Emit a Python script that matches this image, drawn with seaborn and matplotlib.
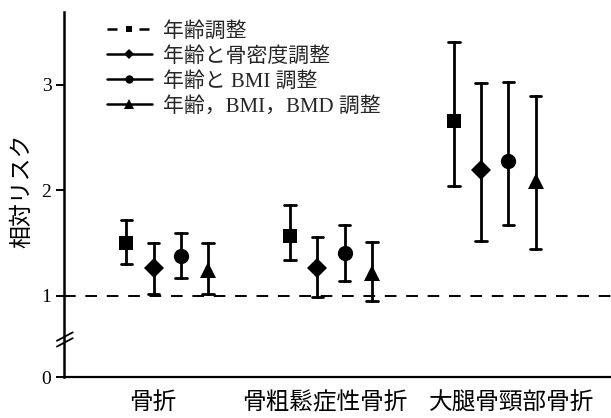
import numpy as np
import pandas as pd
import matplotlib
matplotlib.use("Agg")
import matplotlib.pyplot as plt
from matplotlib.lines import Line2D
import seaborn as sns

# Fracture type categories (x axis)
fractures = ["骨折", "骨粗鬆症性骨折", "大腿骨頸部骨折"]

# Adjustment models (legend)
models = ["年齢調整", "年齢と骨密度調整", "年齢と BMI 調整", "年齢，BMI，BMD 調整"]

# Relative risk with 95% CI for each model, per fracture type
rr_age = [1.50, 1.57, 2.66]
lo_age = [1.30, 1.34, 2.04]
hi_age = [1.72, 1.86, 3.41]

rr_bmd = [1.26, 1.26, 2.19]
lo_bmd = [1.02, 0.99, 1.52]
hi_bmd = [1.50, 1.56, 3.02]

rr_bmi = [1.38, 1.41, 2.28]
lo_bmi = [1.17, 1.14, 1.67]
hi_bmi = [1.60, 1.67, 3.03]

rr_all = [1.25, 1.22, 2.09]
lo_all = [1.02, 0.95, 1.44]
hi_all = [1.50, 1.51, 2.89]

ytick_values = [1, 2, 3]
ytick_labels = ["1", "2", "3"]

series = {
    models[0]: (rr_age, lo_age, hi_age),
    models[1]: (rr_bmd, lo_bmd, hi_bmd),
    models[2]: (rr_bmi, lo_bmi, hi_bmi),
    models[3]: (rr_all, lo_all, hi_all),
}

# Long table: lower bound, estimate and upper bound as three rows per cell,
# so the median gives the estimate and min/max give the interval.
rows = []
for model, (rr, lo, hi) in series.items():
    for frac, r, l, h in zip(fractures, rr, lo, hi):
        for v in (l, r, h):
            rows.append({"fracture": frac, "model": model, "value": v})
df = pd.DataFrame(rows)

sns.set_style("ticks")
plt.rcParams["font.family"] = ["Liberation Serif", "Noto Sans CJK JP", "DejaVu Sans"]

fig = plt.figure(figsize=(6.11, 4.18), dpi=100)
ax = fig.add_axes([64 / 611, 41 / 418, 1 - 64 / 611, 365 / 418])

marker_shapes = ["s", "D", "o", "^"]
sns.pointplot(
    data=df, x="fracture", y="value", hue="model", order=fractures,
    hue_order=models, estimator="median",
    errorbar=lambda v: (np.min(v), np.max(v)),
    dodge=0.5, markers=marker_shapes, linestyles="none",
    palette=["black"] * 4, capsize=0.07,
    err_kws={"linewidth": 2.0}, legend=False, ax=ax,
)

marker_sizes = {"s": 9.7, "D": 10.0, "o": 11.0, "^": 12.0}
for ln in ax.lines:
    m = ln.get_marker()
    if m in marker_sizes:
        ln.set_markersize(marker_sizes[m])
        ln.set_markeredgewidth(0)
        ln.set_zorder(4)

# Reference line at RR = 1
ax.axhline(1.0, color="black", lw=1.4, ls=(0, (6, 5)), zorder=1)

y_bottom = 0.232
ax.set_ylim(y_bottom, 3.69)
ax.set_xlim(-0.63, 2.71)
ax.set_yticks([y_bottom] + ytick_values, labels=["0"] + ytick_labels)
ax.set_xticks([-0.088, 0.963, 2.104], labels=fractures)

ax.tick_params(axis="y", direction="out", length=6, width=1.4, pad=3,
               labelsize=14, color="black")
ax.tick_params(axis="x", length=0, pad=11, labelsize=17)
for lab in ax.get_xticklabels() + ax.get_yticklabels():
    lab.set_color("black")

sns.despine(ax=ax)
ax.spines["left"].set_linewidth(1.8)
ax.spines["bottom"].set_linewidth(1.6)
ax.spines["left"].set_color("black")
ax.spines["bottom"].set_color("black")

ax.set_xlabel("")
ax.set_ylabel("相対リスク", fontsize=16.5, color="black")
ax.yaxis.set_label_coords(-0.056, 0.51)

# Axis break marks on the y axis between 0 and 1
tr = ax.get_yaxis_transform()
for yc in (0.615, 0.56):
    ax.plot([-0.013, 0.016], [yc - 0.04, yc + 0.04], color="black", lw=1.3,
            transform=tr, clip_on=False, zorder=5)

# Legend
handles = [
    Line2D([], [], color="black", lw=1.8, ls=(0, (4.0, 8.8)), marker="s",
           markersize=5, markeredgewidth=0),
    Line2D([], [], color="black", lw=1.8, marker="D", markersize=5,
           markeredgewidth=0),
    Line2D([], [], color="black", lw=1.8, marker="o", markersize=6,
           markeredgewidth=0),
    Line2D([], [], color="black", lw=1.8, marker="^", markersize=7,
           markeredgewidth=0),
]
fig.legend(handles, models, loc="upper left",
           bbox_to_anchor=(107 / 611, 1 - 22 / 418), frameon=False,
           fontsize=15, handlelength=2.15, handletextpad=0.55,
           labelspacing=0.25, borderpad=0, borderaxespad=0)

fig.savefig("out.png", dpi=100)
